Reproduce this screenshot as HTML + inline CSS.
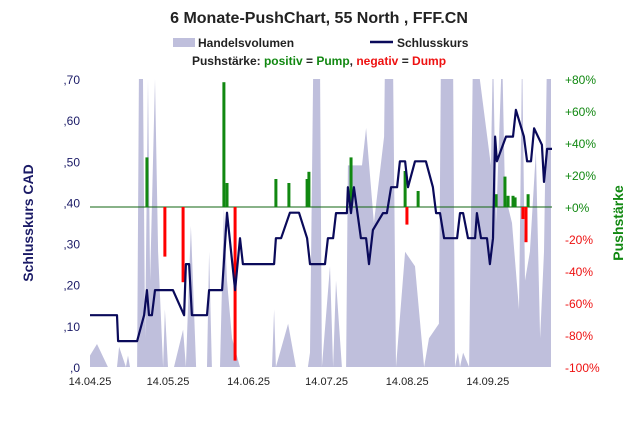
<!DOCTYPE html>
<html><head><meta charset="utf-8"><style>
body{margin:0;background:#fff;font-family:"Liberation Sans",sans-serif}
svg text{font-family:"Liberation Sans",sans-serif}
</style></head><body>
<svg id="c" width="638" height="428" viewBox="0 0 638 428">
<defs><clipPath id="pc"><rect x="90" y="79" width="462" height="288"/></clipPath></defs>
<text x="319" y="23" text-anchor="middle" font-size="16" font-weight="bold" fill="#222">6 Monate-PushChart, 55 North , FFF.CN</text>
<g>
<rect x="173" y="38" width="22" height="9" fill="#bfbfdc"/>
<text x="198" y="47" font-size="12" font-weight="bold" fill="#222">Handelsvolumen</text>
<line x1="370" y1="42" x2="393" y2="42" stroke="#0a0a5a" stroke-width="2.5"/>
<text x="397" y="47" font-size="12" font-weight="bold" fill="#222">Schlusskurs</text>
<text x="319" y="65" text-anchor="middle" font-size="12" font-weight="bold" fill="#222">Pushstärke: <tspan fill="#118811">positiv</tspan> = <tspan fill="#118811">Pump</tspan>, <tspan fill="#ee1111">negativ</tspan> = <tspan fill="#ee1111">Dump</tspan></text>
</g>
<text transform="translate(33,223) rotate(-90)" text-anchor="middle" font-size="14" font-weight="bold" fill="#1a1a66">Schlusskurs CAD</text>
<text transform="translate(623,223) rotate(-90)" text-anchor="middle" font-size="14" font-weight="bold" fill="#118811">Pushstärke</text>
<g id="plot"></g>
</svg>
<script>
const priceTicks=[0,0.1,0.2,0.3,0.4,0.5,0.6,0.7];
const priceTickLabels=[",0",",10",",20",",30",",40",",50",",60",",70"];
const pushTicks=[-100,-80,-60,-40,-20,0,20,40,60,80];
const pushTickLabels=["-100%","-80%","-60%","-40%","-20%","+0%","+20%","+40%","+60%","+80%"];
const dateDays=[0,30,61,91,122,153];
const dateLabels=["14.04.25","14.05.25","14.06.25","14.07.25","14.08.25","14.09.25"];
const priceDays=[0,10.4,10.8,18.1,20.8,21.9,22.7,23.8,25,31.9,36.2,36.9,38.1,39.2,45,45.8,50.8,52.7,55.8,57.7,58.8,70.8,71.5,73.5,76.9,80.4,83.5,84.6,90.4,91.5,93.5,94.6,98.8,99.2,100.4,101.5,104.2,106.2,107.3,108.8,112.7,114.2,115.8,118.1,119.2,121.2,122.3,125,129.2,131.9,133.1,134.6,136.2,141.2,142.3,143.5,145.4,148.1,148.8,150.4,152.7,153.8,155,155.8,156.5,160,162.7,163.8,166.9,168.1,169.6,170.8,173.8,174.6,175.8,177.7];
const priceValues=[.126,.126,.063,.063,.126,.187,.126,.126,.187,.187,.126,.25,.25,.126,.126,.187,.187,.375,.187,.313,.25,.25,.313,.313,.375,.375,.313,.25,.25,.313,.313,.374,.374,.437,.374,.437,.313,.313,.25,.333,.374,.374,.437,.437,.5,.5,.437,.5,.5,.437,.374,.374,.313,.313,.374,.374,.313,.313,.374,.313,.313,.25,.313,.56,.5,.56,.56,.625,.56,.5,.5,.58,.54,.45,.53,.53];
const pushDays=[21.9,28.8,35.8,51.5,52.7,55.8,71.5,76.5,83.5,84.2,100.4,121.2,121.9,126.2,156.2,159.6,160.8,162.7,163.5,166.5,167.7,168.5];
const pushValues=[31,-31,-47,78,15,-96,17.5,15,17.5,22,31,22.5,-11,10,8,19,7,7,6,-7.5,-22,8];
const volDays=[0,2.7,6.9,10.4,11.2,13.8,14.6,15.4,18.1,18.8,20.4,21.2,22.3,23.1,25,26.2,28.1,28.8,30,32.3,35.8,36.9,38.8,40.8,45,45.8,46.9,50,51.5,52.7,54.6,57.7,62.7,64.2,70,70.8,71.5,76.2,79.2,81.5,83.8,84.6,85.8,86.9,88.5,89.2,92.3,93.5,94.6,96.9,98.5,99.2,104.6,106.2,109.2,113.1,113.5,115.4,116.5,117.7,121.2,125,128.5,130.4,134.2,135,135.4,139.6,140.4,141.5,142.3,143.5,145.8,147.3,148.5,154.2,155,156.2,158.5,159.6,162.3,165,166.2,167.3,169.2,171.5,173.1,174.6,175.8,177.3];
const volValues=[4,8,0,0,7,0,4,0,0,100,100,10,100,30,100,40,0,20,0,0,13,0,49,0,0,40,0,0,55,30,10,0,0,0,0,20,0,15,0,0,0,5,100,100,100,0,35,0,30,0,0,70,70,83,50,80,110,110,110,0,40,35,0,10,15,110,110,110,0,5,0,5,0,110,110,70,110,50,110,60,50,20,110,30,40,75,10,40,110,110];
const X=d=>90+d*2.6;
const YP=v=>367-v*411.43;
const YR=p=>207-p*1.6;
const YV=v=>367-v*2.88;
const NS="http://www.w3.org/2000/svg";
const plot=document.getElementById('plot');
function mk(t,a,p){const e=document.createElementNS(NS,t);for(const k in a)e.setAttribute(k,a[k]);(p||plot).appendChild(e);return e;}
// volume
let vp=`M${X(volDays[0])},367`;
volDays.forEach((d,i)=>{vp+=` L${X(d).toFixed(1)},${YV(volValues[i]).toFixed(1)}`;});
vp+=` L${X(volDays[volDays.length-1])},367 Z`;
const va=mk('path',{d:vp,fill:'#bfbfdc','clip-path':'url(#pc)'});


// zero line
const zl=mk('line',{x1:90,x2:552,y1:YR(0),y2:YR(0),stroke:'#116611','stroke-width':1});


// push bars
pushDays.forEach((d,i)=>{const v=pushValues[i];const y0=YR(0),y1=YR(v);
const r=mk('rect',{x:X(d)-1.5,y:Math.min(y0,y1),width:3,height:Math.abs(y1-y0),fill:v>=0?'#118811':'#ff0000'});

});
// price line
const pl=mk('polyline',{points:priceDays.map((d,i)=>X(d).toFixed(1)+','+YP(priceValues[i]).toFixed(1)).join(' '),fill:'none',stroke:'#0a0a5a','stroke-width':2.2,'stroke-linejoin':'round'});


// ticks
priceTicks.forEach((v,i)=>{const t=mk('text',{x:80,y:YP(v)+5,'text-anchor':'end','font-size':12,fill:'#1a1a66'});t.textContent=priceTickLabels[i];

});
pushTicks.forEach((v,i)=>{const t=mk('text',{x:565,y:YR(v)+5,'font-size':12,fill:v>=0?'#118811':'#ee1111'});t.textContent=pushTickLabels[i];

});
dateDays.forEach((d,i)=>{const t=mk('text',{x:X(d),y:385,'text-anchor':'middle','font-size':11,fill:'#222'});t.textContent=dateLabels[i];

});
</script>
</body></html>
